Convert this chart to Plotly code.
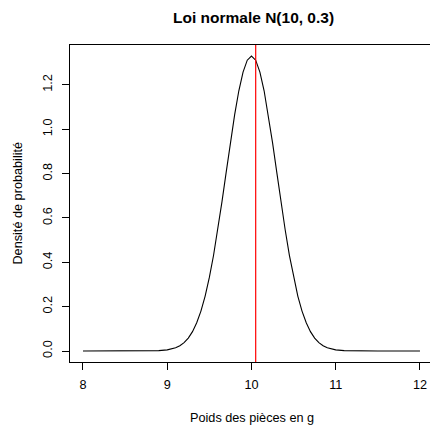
import plotly.graph_objects as go

# Weight values (g) and probability density
poids = [8.0, 8.5, 8.6, 8.7, 8.8, 8.9, 9.0, 9.05, 9.1, 9.15, 9.2, 9.25, 9.3, 9.35,
         9.4, 9.45, 9.5, 9.55, 9.6, 9.65, 9.7, 9.75, 9.8, 9.85, 9.9, 9.95, 10.0,
         10.05, 10.1, 10.15, 10.2, 10.25, 10.3, 10.35, 10.4, 10.45, 10.5, 10.55,
         10.6, 10.65, 10.7, 10.75, 10.8, 10.85, 10.9, 10.95, 11.0, 11.1, 11.2,
         11.3, 11.4, 11.5, 12.0]
densite = [0.0, 0.0, 0.00002, 0.00011, 0.00045, 0.0016, 0.0051, 0.0088, 0.0148,
           0.0240, 0.0380, 0.0584, 0.0874, 0.1272, 0.1800, 0.2477, 0.3316, 0.4317,
           0.5467, 0.6734, 0.8066, 0.9398, 1.0648, 1.1736, 1.2579, 1.3115, 1.3298,
           1.3115, 1.2579, 1.1736, 1.0648, 0.9398, 0.8066, 0.6734, 0.5467, 0.4317,
           0.3316, 0.2477, 0.1800, 0.1272, 0.0874, 0.0584, 0.0380, 0.0240, 0.0148,
           0.0088, 0.0051, 0.0016, 0.00045, 0.00011, 0.00002, 0.0, 0.0]
ligne_rouge = 10.05
x_ticks = [8, 9, 10, 11, 12]
y_ticks = [0.0, 0.2, 0.4, 0.6, 0.8, 1.0, 1.2]
y_labels = ["0.0", "0.2", "0.4", "0.6", "0.8", "1.0", "1.2"]

FONT = "Liberation Sans, Arial, Helvetica, sans-serif"

fig = go.Figure()
fig.add_trace(go.Scatter(x=poids, y=densite, mode="lines",
                         line=dict(color="black", width=1.1),
                         hoverinfo="skip", showlegend=False))

fig.add_shape(type="line", xref="x", yref="paper", x0=ligne_rouge, x1=ligne_rouge,
              y0=0, y1=1, line=dict(color="#ff0000", width=1.2))

fig.update_layout(
    width=430, height=429,
    margin=dict(l=70, r=0, t=45, b=67),
    paper_bgcolor="white", plot_bgcolor="white",
    font=dict(family=FONT, size=12.7, color="black"),
    showlegend=False,
    annotations=[
        dict(text="<b>Loi normale N(10, 0.3)</b>", xref="paper", yref="paper",
             x=0.511, y=1.088, xanchor="center", yanchor="middle",
             showarrow=False, font=dict(size=15.5, family=FONT, color="black")),
        dict(text="Poids des pièces en g", xref="paper", yref="paper",
             x=0.506, y=-0.177, xanchor="center", yanchor="middle",
             showarrow=False, font=dict(size=12.7, family=FONT, color="black")),
        dict(text="Densité de probabilité", xref="paper", yref="paper",
             x=-0.147, y=0.5, xanchor="center", yanchor="middle", textangle=-90,
             showarrow=False, font=dict(size=12.7, family=FONT, color="black")),
    ],
)

fig.update_xaxes(range=[7.846, 12.119], tickvals=x_ticks,
                 ticktext=[str(v) for v in x_ticks],
                 showline=True, linecolor="black", linewidth=1, mirror=True,
                 ticks="outside", ticklen=7, tickcolor="black", tickwidth=1,
                 ticklabelstandoff=4,
                 showgrid=False, zeroline=False,
                 tickfont=dict(size=12.7, family=FONT, color="black"))
fig.update_yaxes(range=[-0.0496, 1.380], tickvals=y_ticks, ticktext=y_labels,
                 showline=True, linecolor="black", linewidth=1, mirror=False,
                 ticks="outside", ticklen=7, tickcolor="black", tickwidth=1,
                 tickangle=-90, ticklabelstandoff=5,
                 showgrid=False, zeroline=False,
                 tickfont=dict(size=12.7, family=FONT, color="black"))

fig.write_html("out.html", config={"displayModeBar": False},
               post_script="document.body.style.margin='0';"
                           "document.body.style.padding='0';"
                           "document.body.style.overflow='hidden';")
